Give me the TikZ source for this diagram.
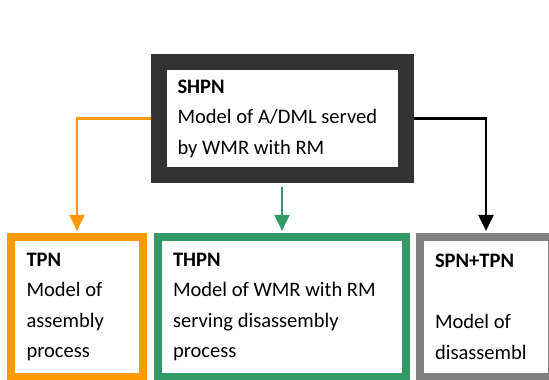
\documentclass[tikz,border=0pt]{standalone}
\usepackage{fontspec}
\setmainfont{Carlito}
\definecolor{shpndark}{RGB}{51, 51, 51}
\definecolor{tpnorange}{RGB}{255, 153, 0}
\definecolor{thpngreen}{RGB}{51, 153, 102}
\definecolor{spngray}{RGB}{128, 128, 128}
\usetikzlibrary{arrows.meta, positioning}

\begin{document}
\begin{tikzpicture}[
  netbox/.style={draw, inner sep=0pt, align=flush left, font=\fontsize{11.7}{17.4}\selectfont},
  subnet/.style={netbox, line width=0.16cm, minimum width=2.64cm, minimum height=2.8cm, text width=2.02cm},
  link/.style={line width=1.3pt, -{Triangle[width=0.3cm, length=0.32cm]}, shorten >=1.2pt}
]
  \useasboundingbox (0, 0) rectangle (10.98, 7.58);
  \clip (0, 0) rectangle (10.98, 7.58);

  % Whole net
  \node[netbox, draw=shpndark, line width=0.32cm, minimum width=4.94cm, minimum height=2.26cm, text width=4.18cm]
    (shpn) at (5.64, 5.21) {\textbf{SHPN}\\ \mbox{Model of A/DML served}\\ \mbox{by WMR with RM}};

  % Sub-nets
  \node[subnet, draw=tpnorange] (tpn) at (1.54, 1.44) {\textbf{TPN}\\ Model of\\ assembly\\ process};
  \node[subnet, draw=thpngreen, minimum width=4.96cm, text width=4.36cm]
    (thpn) at (5.64, 1.44) {\textbf{THPN}\\ \mbox{Model of WMR with RM}\\ \mbox{serving disassembly}\\ process};
  \node[subnet, draw=spngray, text width=2.04cm] (spntpn) at (9.72, 1.44) {\textbf{SPN+TPN}\\[17.4pt] Model of\\ \mbox{disassembl}};

  % Links
  \draw[link, tpnorange] (shpn.west) -| (tpn.north);
  \draw[link, thpngreen, shorten <=2.3pt] (shpn.south) -- (thpn.north);
  \draw[link, black] (shpn.east) -| (spntpn.north);
\end{tikzpicture}
\end{document}
